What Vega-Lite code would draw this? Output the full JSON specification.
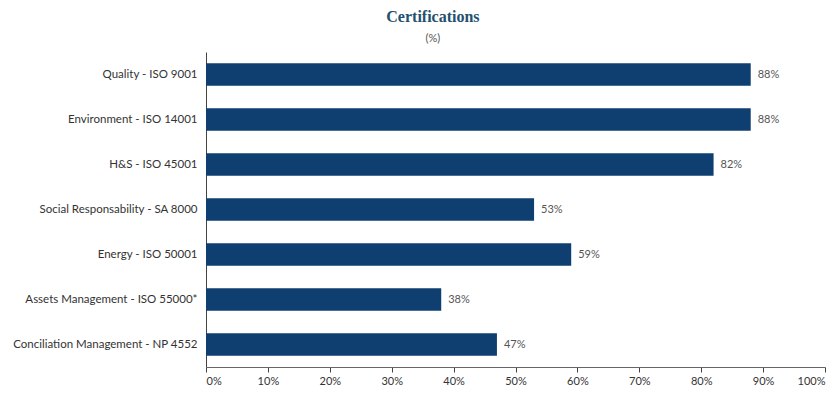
{
  "$schema": "https://vega.github.io/schema/vega-lite/v6.json",
  "width": 619,
  "height": 315,
  "autosize": {"type": "none"},
  "padding": {"left": 206, "top": 52, "right": 15, "bottom": 27},
  "background": "white",
  "title": {
    "text": "Certifications",
    "subtitle": "(%)",
    "frame": "bounds",
    "anchor": "middle",
    "dx": 14,
    "font": "Liberation Serif",
    "fontSize": 16,
    "fontWeight": "bold",
    "color": "#24506f",
    "subtitleFont": "Lato",
    "subtitleFontSize": 11,
    "subtitleColor": "#555555",
    "subtitlePadding": 8,
    "offset": 8
  },
  "data": {
    "values": [
      {"cert": "Quality - ISO 9001", "pct": 0.88},
      {"cert": "Environment - ISO 14001", "pct": 0.88},
      {"cert": "H&S - ISO 45001", "pct": 0.82},
      {"cert": "Social Responsability - SA 8000", "pct": 0.53},
      {"cert": "Energy - ISO 50001", "pct": 0.59},
      {"cert": "Assets Management - ISO 55000*", "pct": 0.38},
      {"cert": "Conciliation Management - NP 4552", "pct": 0.47}
    ]
  },
  "encoding": {
    "y": {
      "field": "cert",
      "type": "nominal",
      "sort": null,
      "scale": {"paddingInner": 0.5, "paddingOuter": 0.25},
      "axis": {
        "title": null,
        "ticks": false,
        "labelFont": "Lato",
        "labelFontSize": 11.5,
        "labelColor": "#333333",
        "labelPadding": 9,
        "domainColor": "#444444",
        "labelLimit": 300
      }
    },
    "x": {
      "field": "pct",
      "type": "quantitative",
      "scale": {"domain": [0, 1]},
      "axis": {
        "title": null,
        "values": [0, 0.1, 0.2, 0.3, 0.4, 0.5, 0.6, 0.7, 0.8, 0.9, 1],
        "format": ".0%",
        "grid": false,
        "labelFont": "Lato",
        "labelFontSize": 11,
        "labelColor": "#333333",
        "domainColor": "#666666",
        "tickColor": "#444444",
        "tickSize": 5,
        "labelPadding": 3
      }
    }
  },
  "layer": [
    {"mark": {"type": "bar", "color": "#0f3e70"}},
    {
      "mark": {"type": "text", "align": "left", "dx": 7, "font": "Lato", "fontSize": 11, "color": "#555555"},
      "encoding": {"text": {"field": "pct", "type": "quantitative", "format": ".0%"}}
    }
  ],
  "config": {"view": {"stroke": null}}
}
